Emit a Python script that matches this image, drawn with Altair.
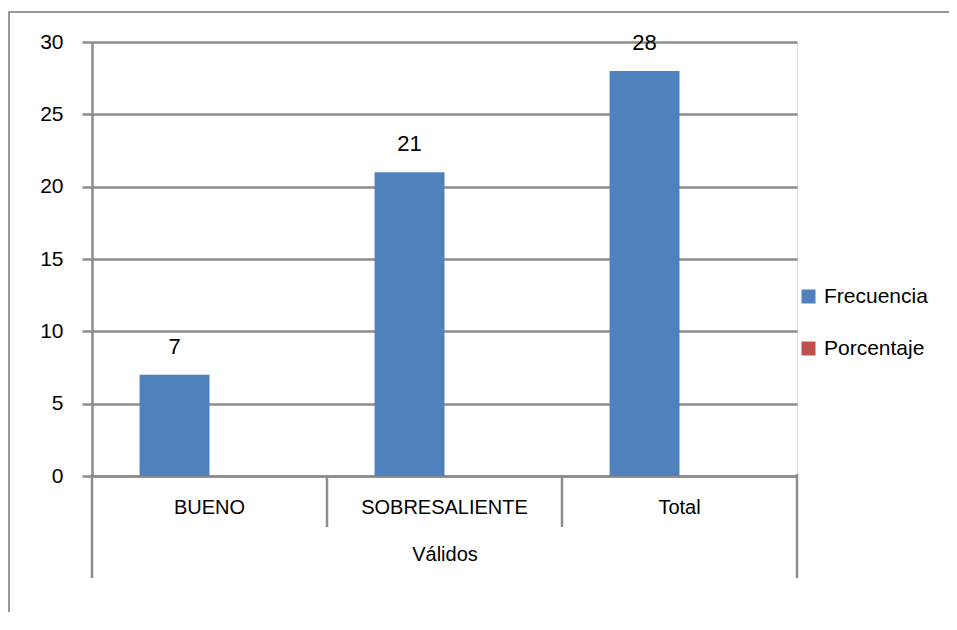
import altair as alt
import pandas as pd

categories = ["BUENO", "SOBRESALIENTE", "Total"]
series = ["Frecuencia", "Porcentaje"]
frecuencia = [7, 21, 28]
porcentaje = [None, None, None]
y_ticks = [0, 5, 10, 15, 20, 25, 30]
axis_title = "Válidos"

BLUE = "#4F81BD"
RED = "#C0504D"
GRAY = "#8c8c8c"
FONT = "Liberation Sans, Arial, sans-serif"

rows = []
for c, f, p in zip(categories, frecuencia, porcentaje):
    rows.append({"categoria": c, "serie": "Frecuencia", "valor": f})
    rows.append({"categoria": c, "serie": "Porcentaje", "valor": p})
df = pd.DataFrame(rows)

x_scale = alt.Scale(domain=categories, paddingInner=0, paddingOuter=0)

x_enc = alt.X(
    "categoria:N",
    scale=x_scale,
    axis=alt.Axis(
        title=axis_title,
        ticks=False,
        domain=True,
        domainColor=GRAY,
        domainWidth=2.5,
        labelAngle=0,
        labelFont=FONT,
        labelFontSize=20,
        labelColor="black",
        labelBaseline="alphabetic",
        labelPadding=37,
        labelLimit=0,
        titleFont=FONT,
        titleFontSize=20,
        titleFontWeight="normal",
        titleColor="black",
        titleBaseline="alphabetic",
        titleY=84,
    ),
)
xoff_enc = alt.XOffset(
    "serie:N",
    scale=alt.Scale(domain=series, paddingInner=0, paddingOuter=0.68),
)
y_enc = alt.Y(
    "valor:Q",
    scale=alt.Scale(domain=[0, 30], nice=False),
    axis=alt.Axis(
        title=None,
        values=y_ticks,
        grid=True,
        gridColor=GRAY,
        gridWidth=2.5,
        domain=True,
        domainColor=GRAY,
        domainWidth=2.5,
        ticks=True,
        tickSize=10,
        tickColor=GRAY,
        tickWidth=2.5,
        labelPadding=19,
        labelFont=FONT,
        labelFontSize=21,
        labelColor="black",
    ),
)
color_enc = alt.Color(
    "serie:N",
    scale=alt.Scale(domain=series, range=[BLUE, RED]),
    legend=alt.Legend(
        title=None,
        orient="none",
        legendX=706,
        legendY=244,
        symbolType="square",
        symbolSize=196,
        symbolStrokeWidth=0,
        labelFont=FONT,
        labelFontSize=21,
        labelColor="black",
        labelOffset=5,
        labelLimit=0,
        rowPadding=30,
        padding=0,
    ),
)

bars = alt.Chart(df).mark_bar(stroke=None).encode(
    x=x_enc, xOffset=xoff_enc, y=y_enc, color=color_enc
)

labels = alt.Chart(df).mark_text(
    baseline="alphabetic", dy=-21, fontSize=22, font=FONT, color="black"
).encode(
    x=alt.X("categoria:N", scale=x_scale),
    xOffset=alt.XOffset("serie:N"),
    y=alt.Y("valor:Q"),
    text=alt.Text("valor:Q"),
)

sep_df = pd.DataFrame({"categoria": categories})

inner_sep = alt.Chart(sep_df.iloc[1:]).mark_rule(color=GRAY, strokeWidth=2.5).encode(
    x=alt.X("categoria:N", bandPosition=0),
    y=alt.value(434),
    y2=alt.value(485),
)
left_sep = alt.Chart(sep_df.iloc[:1]).mark_rule(color=GRAY, strokeWidth=2.5).encode(
    x=alt.X("categoria:N", bandPosition=0),
    y=alt.value(432),
    y2=alt.value(536),
)
right_sep = alt.Chart(sep_df.iloc[2:]).mark_rule(color=GRAY, strokeWidth=2.5).encode(
    x=alt.X("categoria:N", bandPosition=1),
    y=alt.value(432),
    y2=alt.value(536),
)

one = pd.DataFrame({"a": [0]})
frame_top = alt.Chart(one).mark_rule(color="#999999", strokeWidth=2).encode(
    x=alt.value(-83), x2=alt.value(870), y=alt.value(-30)
)
frame_left = alt.Chart(one).mark_rule(color="#999999", strokeWidth=2).encode(
    x=alt.value(-83), y=alt.value(-31), y2=alt.value(620)
)

chart = alt.layer(
    frame_top, frame_left, bars, labels, inner_sep, left_sep, right_sep
).properties(
    width=705,
    height=434,
    autosize=alt.AutoSizeParams(type="none"),
    padding={"left": 84, "top": 34, "right": 152, "bottom": 136},
).configure_view(stroke=None).configure(background="white")

chart.save("out.html", embed_options={"renderer": "svg", "actions": False})
